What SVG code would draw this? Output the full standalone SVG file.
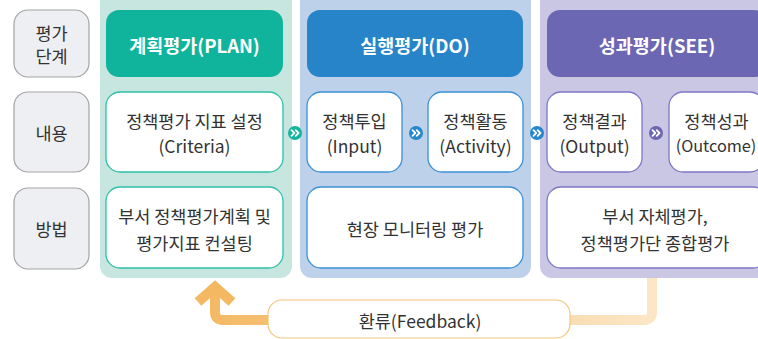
<svg xmlns="http://www.w3.org/2000/svg" width="758" height="339" viewBox="0 0 758 339">
<defs>
<style>
.lbl{fill:#eeeff2;stroke:#a3a3a3;stroke-width:1.2}
.t{font-family:"Noto Sans CJK KR","Noto Sans",sans-serif;font-size:17.5px;fill:#333;text-anchor:middle;dominant-baseline:central}
.h{font-family:"Noto Sans CJK KR","Noto Sans",sans-serif;font-size:18.5px;font-weight:bold;fill:#fff;text-anchor:middle;dominant-baseline:central}
.bg{fill:#fff;stroke-width:1.3}
.chev{fill:none;stroke:#fff;stroke-width:1.8;stroke-linecap:round;stroke-linejoin:round}
</style>
<linearGradient id="fb" x1="652" y1="0" x2="200" y2="0" gradientUnits="userSpaceOnUse">
<stop offset="0" stop-color="#fbe6c6"/>
<stop offset="0.3" stop-color="#f8d8a6"/>
<stop offset="1" stop-color="#f4b862"/>
</linearGradient>
<g id="ch"><path class="chev" d="M-3.5,-2.8 L-0.7,0 L-3.5,2.8 M0.7,-2.8 L3.5,0 L0.7,2.8"/></g>
</defs>
<rect width="758" height="339" fill="#fff"/>

<g id="connectors">
<path d="M652,278 V312 Q652,320 644,320 H570" fill="none" stroke="url(#fb)" stroke-width="10"/>
<path d="M268,320 H223 Q215,320 215,312 V290" fill="none" stroke="url(#fb)" stroke-width="10"/>
<path d="M198,302 L215,287 L232,302" fill="none" stroke="#f4b862" stroke-width="10" stroke-linejoin="miter"/>
</g>

<g id="row-labels">
<g id="label-stage"><rect class="lbl" x="14" y="10" width="75" height="67" rx="14"/>
<text class="t" x="51.5" y="32">평가</text><text class="t" x="51.5" y="55">단계</text></g>
<g id="label-content"><rect class="lbl" x="14" y="92" width="75" height="80" rx="14"/>
<text class="t" x="51.5" y="132">내용</text></g>
<g id="label-method"><rect class="lbl" x="14" y="188" width="75" height="81" rx="14"/>
<text class="t" x="51.5" y="228">방법</text></g>
</g>

<g id="plan">
<rect x="100" y="-12" width="192" height="290" rx="12" fill="#c6e6df"/>
<g id="plan-header"><rect x="106" y="10" width="177" height="67" rx="13" fill="#10b49c"/>
<text class="h" x="194.5" y="45">계획평가(PLAN)</text></g>
<g id="plan-content"><rect class="bg" x="106" y="92" width="177" height="80" rx="14" stroke="#2fc0aa"/>
<text class="t" x="194.5" y="120">정책평가 지표 설정</text><text class="t" x="194.5" y="145">(Criteria)</text></g>
<g id="plan-method"><rect class="bg" x="106" y="187" width="177" height="81" rx="14" stroke="#2fc0aa"/>
<text class="t" x="194.5" y="215">부서 정책평가계획 및</text><text class="t" x="194.5" y="242">평가지표 컨설팅</text></g>
</g>

<g id="do">
<rect x="300" y="-12" width="231" height="290" rx="12" fill="#bdd2ea"/>
<g id="do-header"><rect x="307" y="10" width="216" height="67" rx="13" fill="#2784c8"/>
<text class="h" x="415" y="45">실행평가(DO)</text></g>
<g id="do-input"><rect class="bg" x="307" y="92" width="95" height="80" rx="14" stroke="#3b90d4"/>
<text class="t" x="354.5" y="120">정책투입</text><text class="t" x="354.5" y="145">(Input)</text></g>
<g id="do-activity"><rect class="bg" x="428" y="92" width="95" height="80" rx="14" stroke="#3b90d4"/>
<text class="t" x="475.5" y="120">정책활동</text><text class="t" x="475.5" y="145">(Activity)</text></g>
<g id="do-method"><rect class="bg" x="307" y="187" width="216" height="81" rx="14" stroke="#3b90d4"/>
<text class="t" x="415" y="228">현장 모니터링 평가</text></g>
</g>

<g id="see">
<rect x="540" y="-12" width="240" height="290" rx="12" fill="#c9c7e4"/>
<g id="see-header"><rect x="547" y="10" width="220" height="67" rx="13" fill="#6c67b2"/>
<text class="h" x="657" y="45">성과평가(SEE)</text></g>
<g id="see-output"><rect class="bg" x="547" y="92" width="95" height="80" rx="14" stroke="#7d77c4"/>
<text class="t" x="594.5" y="120">정책결과</text><text class="t" x="594.5" y="145">(Output)</text></g>
<g id="see-outcome"><rect class="bg" x="669" y="92" width="95" height="80" rx="14" stroke="#7d77c4"/>
<text class="t" x="716.5" y="120">정책성과</text><text class="t" x="716" y="145" style="font-size:16.3px">(Outcome)</text></g>
<g id="see-method"><rect class="bg" x="547" y="187" width="220" height="81" rx="14" stroke="#7d77c4"/>
<text class="t" x="655" y="215">부서 자체평가,</text><text class="t" x="655" y="242">정책평가단 종합평가</text></g>
</g>

<g id="chevrons">
<g id="chev1"><circle cx="295" cy="133" r="7" fill="#13b59c"/><use href="#ch" x="295" y="133"/></g>
<g id="chev2"><circle cx="416" cy="133" r="7" fill="#2587cc"/><use href="#ch" x="416" y="133"/></g>
<g id="chev3"><circle cx="537" cy="133" r="7" fill="#2587cc"/><use href="#ch" x="537" y="133"/></g>
<g id="chev4"><circle cx="656" cy="133" r="7" fill="#6c67b2"/><use href="#ch" x="656" y="133"/></g>
</g>

<g id="feedback">
<rect x="268" y="300" width="302" height="38" rx="14" fill="#fff" stroke="#f6c47c" stroke-width="1.2"/>
<text class="t" x="420" y="320">환류(Feedback)</text>
</g>
</svg>
